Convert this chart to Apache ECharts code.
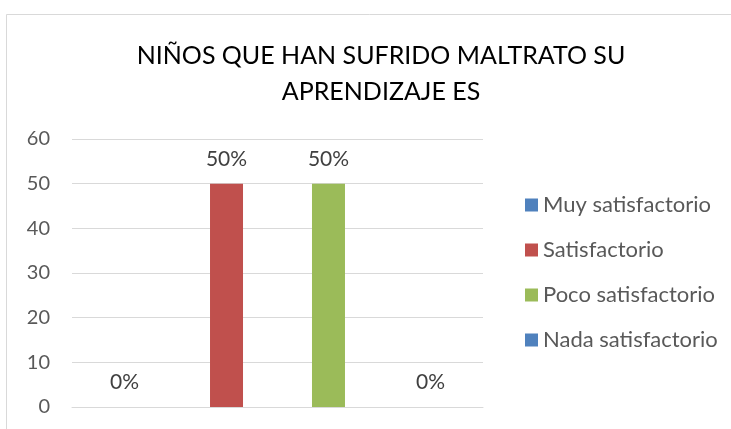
<!DOCTYPE html>
<html>
<head>
<meta charset="utf-8">
<script src="https://cdn.jsdelivr.net/npm/echarts@6/dist/echarts.min.js"></script>
<style>
  html, body { margin: 0; padding: 0; background: #fff; }
  #chart { width: 731px; height: 429px; }
</style>
</head>
<body>
<div id="chart"></div>
<script>
// Values.
var titleText = "NIÑOS QUE HAN SUFRIDO MALTRATO SU\nAPRENDIZAJE ES";
var categories = [""];
var seriesNames = ["Muy satisfactorio", "Satisfactorio", "Poco satisfactorio", "Nada satisfactorio"];
var seriesValues = [0, 50, 50, 0];
var seriesColors = ["#4F81BD", "#C0504D", "#9BBB59", "#4F81BD"];
var yTicks = { min: 0, max: 60, interval: 10 };

var font = "Lato, 'Open Sans', sans-serif";

var series = seriesNames.map(function (name, i) {
  return {
    name: name,
    type: "bar",
    data: [seriesValues[i]],
    barWidth: 33,
    barGap: "209%",
    itemStyle: { color: seriesColors[i] },
    label: {
      show: true,
      position: "top",
      distance: 14,
      formatter: "{c}%",
      color: "#404040",
      fontFamily: font,
      fontSize: 21
    }
  };
});

var chart = echarts.init(document.getElementById("chart"));
chart.setOption({
  animation: false,
  backgroundColor: "#fff",
  title: {
    text: titleText,
    left: 376,
    top: 33,
    textAlign: "center",
    textStyle: {
      fontFamily: font,
      fontWeight: "normal",
      fontSize: 25,
      lineHeight: 36,
      color: "#000"
    }
  },
  graphic: [{
    type: "rect",
    shape: { x: 6.5, y: 14.5, width: 900, height: 600 },
    style: { fill: "none", stroke: "#d9d9d9", lineWidth: 1 },
    silent: true
  }],
  legend: {
    orient: "vertical",
    left: 520,
    top: 189,
    icon: "rect",
    itemWidth: 13,
    itemHeight: 13,
    itemGap: 23,
    textStyle: {
      fontFamily: font,
      fontSize: 22,
      lineHeight: 22,
      color: "#595959"
    },
    data: seriesNames
  },
  grid: { left: 72, right: 248, top: 139, bottom: 22, containLabel: false },
  xAxis: {
    type: "category",
    data: categories,
    axisLine: { lineStyle: { color: "#d9d9d9", width: 1 } },
    axisTick: { show: false },
    axisLabel: { show: false }
  },
  yAxis: {
    type: "value",
    min: yTicks.min,
    max: yTicks.max,
    interval: yTicks.interval,
    axisLine: { show: false },
    axisTick: { show: false },
    splitLine: { lineStyle: { color: "#d9d9d9", width: 1 } },
    axisLabel: {
      margin: 22,
      color: "#595959",
      fontFamily: font,
      fontSize: 20
    }
  },
  series: series
});
</script>
</body>
</html>
